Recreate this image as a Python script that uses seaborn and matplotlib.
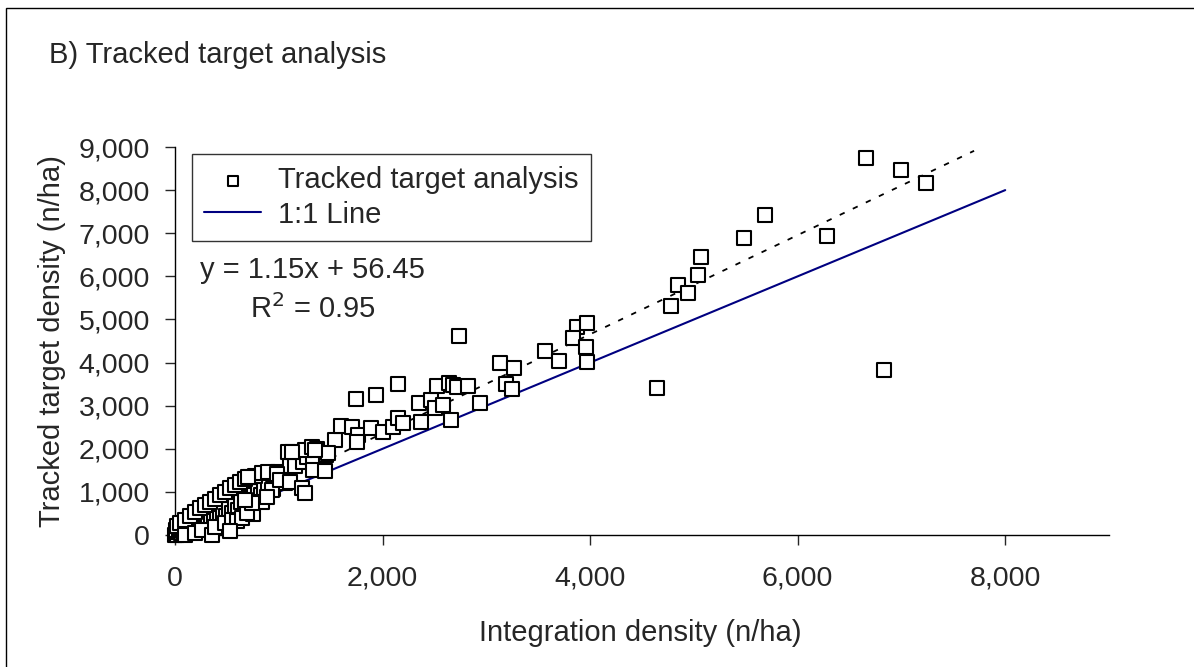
import matplotlib
matplotlib.use("Agg")
import matplotlib.pyplot as plt
import seaborn as sns
import pandas as pd
from matplotlib.patches import Rectangle

# integration density (x) vs tracked target density (y)
integration = [
    0, 10, 20, 30, 5, 40, 60, 80, 100, 120, 150, 170, 200, 220, 250, 270,
    300, 320, 350, 380, 400, 430, 460, 490, 520, 550, 580, 610, 640, 670,
    700, 730, 760, 800, 830, 860, 900, 940, 980, 1020, 1060,
    15, 48, 96, 145, 193, 241, 289, 337, 385, 434, 482, 530, 578, 626,
    674, 723, 771, 835, 899, 995,
    96, 193, 256, 353, 385, 482, 546, 594, 643, 755, 691, 835, 739, 674,
    931, 883, 706, 530,
    1092, 995, 1108, 986, 1012, 1108, 1156, 1236, 1268, 1332, 1332, 1445,
    1252, 1317, 1365, 1452, 1541, 1127, 1226, 1252, 1477, 1349,
    1596, 1702, 1760, 1756, 1893, 2007, 2103, 2151, 2193, 1744, 1936, 2145,
    2367, 2348, 2467, 2505, 2579, 2656, 2521, 2636, 2675, 2720, 2820, 2935,
    2739, 3131, 3269, 3186, 3250, 3565, 3703, 3876, 3966, 3837, 3957, 3972,
    4646, 4783, 4846, 4947, 5044, 5064, 5483, 5681, 6279, 6657, 6994, 7236,
    6830,
]
tracked = [
    0, 20, 0, 60, 110, 120, 40, 90, 150, 60, 220, 130, 260, 180, 330, 240,
    380, 290, 420, 330, 480, 400, 540, 450, 600, 520, 680, 590, 760, 660,
    850, 760, 930, 1020, 920, 1100, 1180, 1060, 1250, 1330, 1200,
    208, 270, 348, 440, 541, 618, 695, 773, 826, 927, 1004, 1081, 1159, 1236,
    1290, 1352, 1368, 1429, 1468, 1468,
    0, 39, 116, 0, 193, 270, 348, 331, 386, 487, 502, 772, 734, 811,
    1043, 888, 1351, 100,
    1917, 1414, 1606, 1414, 1275, 1236, 1598, 1700, 1815, 1761, 1506, 1490,
    1975, 2031, 1992, 1854, 2202, 1930, 1082, 980, 1900, 1970,
    2540, 2500, 2330, 2160, 2490, 2400, 2510, 2710, 2590, 3150, 3240, 3510,
    2620, 3066, 3128, 2936, 3012, 2672, 3453, 3530, 3476, 3437, 3460, 3059,
    4620, 3993, 3863, 3507, 3377, 4264, 4039, 4827, 4929, 4572, 4350, 4002,
    3400, 5320, 5806, 5625, 6032, 6439, 6888, 7429, 6934, 8738, 8462, 8157,
    3830,
]

slope = 1.15
intercept = 56.45
trend_x = [0, 7700]
one_to_one = [0, 8000]

df = pd.DataFrame({"Integration": integration, "Tracked": tracked})
trend = pd.DataFrame({"x": trend_x, "y": [slope * v + intercept for v in trend_x]})
ref = pd.DataFrame({"x": one_to_one, "y": one_to_one})

sns.set_style("ticks")
plt.rcParams["font.family"] = ["Liberation Sans", "DejaVu Sans"]
FS = 21

fig = plt.figure(figsize=(11.94, 6.67), dpi=100)
ax = fig.add_axes([0.1466, 0.1979, 0.7822, 0.5817])

sns.lineplot(data=ref, x="x", y="y", ax=ax, color="#000080", linewidth=1.5,
             label="1:1 Line", zorder=2)
sns.lineplot(data=trend, x="x", y="y", ax=ax, color="black", linewidth=1.3,
             linestyle=(0, (3, 5)), label="_trend", zorder=2)
sns.scatterplot(data=df, x="Integration", y="Tracked", ax=ax, marker="s",
                s=100, facecolor="white", edgecolor="black", linewidth=1.5,
                label="Tracked target analysis", zorder=3, clip_on=False)

ax.set_xlim(0, 9000)
ax.set_ylim(0, 9000)
ax.set_xticks(range(0, 8001, 2000))
ax.set_yticks(range(0, 9001, 1000))
ax.xaxis.set_major_formatter(matplotlib.ticker.StrMethodFormatter("{x:,.0f}"))
ax.yaxis.set_major_formatter(matplotlib.ticker.StrMethodFormatter("{x:,.0f}"))
ax.tick_params(labelsize=20.5, length=7, width=1, direction="out")
ax.tick_params(axis="x", pad=15)
ax.tick_params(axis="y", pad=11)
ax.set_xlabel("Integration density (n/ha)", fontsize=FS)
ax.set_ylabel("Tracked target density (n/ha)", fontsize=FS)
ax.xaxis.set_label_coords(0.498, -0.252)
ax.xaxis.label.set_va("center")
ax.yaxis.set_label_coords(-0.1317, 0.5)
ax.yaxis.label.set_va("center")
sns.despine(ax=ax)
for sp in ("left", "bottom"):
    ax.spines[sp].set_linewidth(1.0)
    ax.spines[sp].set_color("black")

handles, labels = ax.get_legend_handles_labels()
order = [labels.index("Tracked target analysis"), labels.index("1:1 Line")]
leg = ax.legend([handles[i] for i in order], [labels[i] for i in order],
                loc="upper left", bbox_to_anchor=(0.018, 0.982), borderaxespad=0,
                fontsize=FS, frameon=True, fancybox=False, edgecolor="black",
                handlelength=1.95, handletextpad=0.58, borderpad=0.42,
                labelspacing=0.22, markerscale=0.7)
leg.get_frame().set_linewidth(1.0)

ax.text(0.027, 0.683, "y = 1.15x + 56.45", transform=ax.transAxes,
        fontsize=FS, va="center", ha="left")
ax.text(0.08, 0.582, "R$^2$ = 0.95", transform=ax.transAxes,
        fontsize=FS, va="center", ha="left")

fig.text(0.041, 0.9175, "B) Tracked target analysis", fontsize=FS,
         va="center", ha="left")

fig.patches.append(Rectangle((0.005, -0.02), 1.1, 1.008, transform=fig.transFigure,
                             fill=False, edgecolor="black", linewidth=1.0,
                             clip_on=False))

fig.savefig("out.png", dpi=100)
